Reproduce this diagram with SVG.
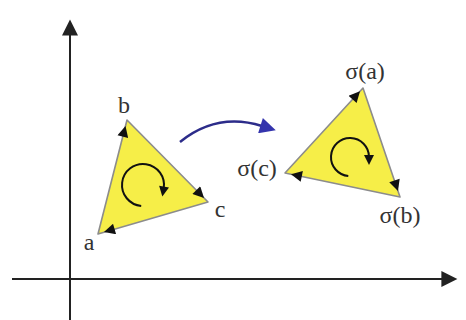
<svg xmlns="http://www.w3.org/2000/svg" width="466" height="320" viewBox="0 0 466 320">
<style>
.axis{stroke:#222;stroke-width:2;fill:none}
.tri{fill:#f6ee48;stroke:#8c8c8c;stroke-width:1.6;stroke-linejoin:round}
.ea{fill:none;stroke:none;marker-end:url(#ah)}
.rot{fill:none;stroke:#111;stroke-width:2;marker-end:url(#rh)}
.lbl{font-family:"Liberation Serif","Times New Roman",serif;font-size:24px;fill:#333;text-anchor:middle}
.map{fill:none;stroke:#2c2c8a;stroke-width:2.5;marker-end:url(#bh)}
</style>
<defs>
<marker id="ah" viewBox="0 0 10 10" refX="10" refY="5" markerUnits="userSpaceOnUse" markerWidth="15" markerHeight="11" orient="auto"><path d="M0,0 L10,5 L0,10 z" fill="#111"/></marker>
<marker id="rh" viewBox="0 0 10 10" refX="2" refY="5" markerUnits="userSpaceOnUse" markerWidth="12" markerHeight="10" orient="auto"><path d="M0,0 L10,5 L0,10 z" fill="#111"/></marker>
<marker id="bh" viewBox="0 0 10 10" refX="1" refY="5" markerUnits="userSpaceOnUse" markerWidth="25" markerHeight="16" orient="auto"><path d="M0,0 L10,5 L0,10 z" fill="#3434ad"/></marker>
<marker id="axh" viewBox="0 0 10 10" refX="1" refY="5" markerUnits="userSpaceOnUse" markerWidth="26" markerHeight="16" orient="auto"><path d="M0,0 L10,5 L0,10 z" fill="#222"/></marker>
</defs>
<g id="axes">
<path class="axis" d="M70,320 L70,34" marker-end="url(#axh)"/>
<path class="axis" d="M12,279 L443,279" marker-end="url(#axh)"/>
</g>
<g id="triangle-left">
<polygon class="tri" points="98,234 127,120 208,202"/>
<path class="ea" d="M124.3,130.8 L125.5,126"/>
<path class="ea" d="M200.5,194.4 L204,198"/>
<path class="ea" d="M108.8,230.6 L104,232"/>
<path class="rot" d="M141.2,205.9 A21,21 0 1 1 163.7,188.6"/>
<text class="lbl" x="89" y="250">a</text>
<text class="lbl" x="124" y="113">b</text>
<text class="lbl" x="220" y="217">c</text>
</g>
<g id="triangle-right">
<polygon class="tri" points="363,88 285,173 400,197"/>
<path class="ea" d="M356.6,95 L360,91.3"/>
<path class="ea" d="M396.4,186.3 L398,191"/>
<path class="ea" d="M295.9,175.2 L291,174.2"/>
<path class="rot" d="M348.3,176 A19,19 0 1 1 369,157"/>
<text class="lbl" x="365" y="79">σ(a)</text>
<text class="lbl" x="257" y="176">σ(c)</text>
<text class="lbl" x="400" y="223">σ(b)</text>
</g>
<g id="connectors">
<path class="map" d="M180,142 Q217,112 262,126"/>
</g>
</svg>
